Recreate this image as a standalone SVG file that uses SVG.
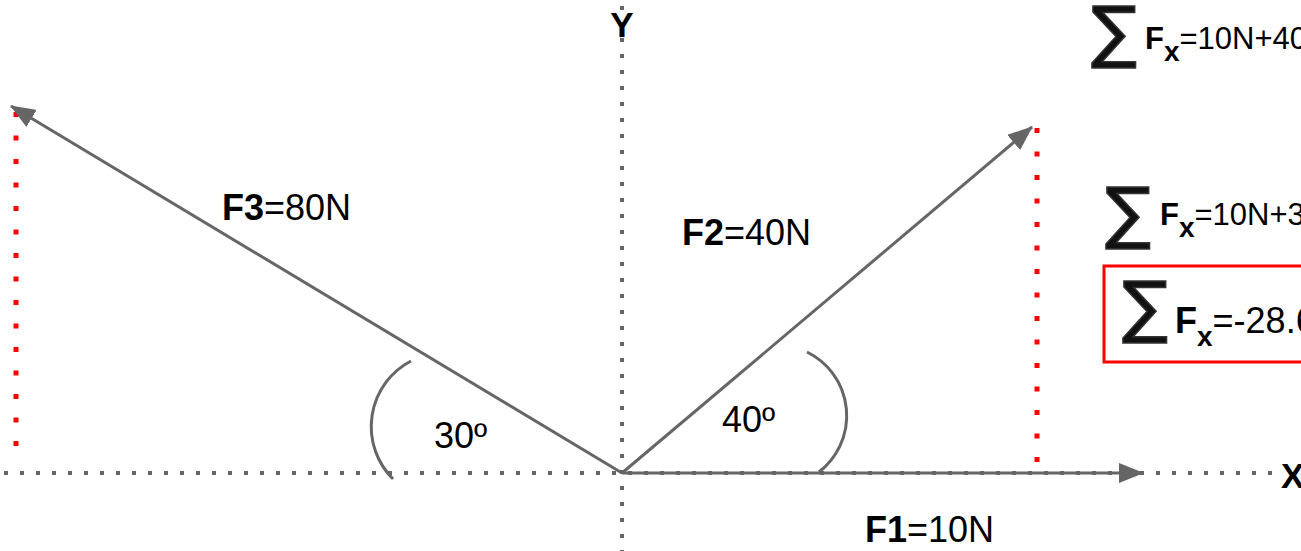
<svg xmlns="http://www.w3.org/2000/svg" width="1301" height="551" viewBox="0 0 1301 551">
<style>
text{font-family:"Liberation Sans",Arial,sans-serif;fill:#000}
.b{font-weight:bold}
.axis{stroke:#666;stroke-width:4;stroke-dasharray:4 12;fill:none}
.red{stroke:#f00;stroke-width:5;stroke-dasharray:5 18.5;fill:none}
.vec{stroke:#666;stroke-width:3;fill:none}
.sig{font-family:"DejaVu Sans",sans-serif;font-size:68px;fill:#111;stroke:#333;stroke-width:1.5}
</style>
<defs>
<marker id="ah" viewBox="0 0 25 20" refX="24" refY="10" markerWidth="25" markerHeight="20" markerUnits="userSpaceOnUse" orient="auto">
<path d="M0,0 L25,10 L0,20 Z" fill="#666"/>
</marker>
</defs>
<g id="axes">
<line class="axis" x1="622" y1="6" x2="622" y2="551"/>
<line class="axis" x1="4" y1="473" x2="1272" y2="473"/>
<text class="b" x="622" y="37" font-size="35" text-anchor="middle">Y</text>
<text class="b" x="1281" y="488" font-size="35">X</text>
</g>
<g id="guides">
<line class="red" x1="16" y1="112" x2="16" y2="456"/>
<line class="red" x1="1037" y1="128" x2="1037" y2="467"/>
</g>
<g id="connectors">
<line class="vec" x1="622" y1="473" x2="1143" y2="473" marker-end="url(#ah)"/>
<line class="vec" x1="622" y1="473" x2="1032" y2="127" marker-end="url(#ah)"/>
<line class="vec" x1="622" y1="473" x2="11" y2="106" marker-end="url(#ah)"/>
<path class="vec" d="M411,361 A74,74 0 0 0 393,479"/>
<path class="vec" d="M807,352 A71,71 0 0 1 819,472"/>
</g>
<g id="labels">
<text x="222" y="220" font-size="36"><tspan class="b">F3</tspan>=80N</text>
<text x="682" y="245" font-size="36"><tspan class="b">F2</tspan>=40N</text>
<text x="865" y="542" font-size="36"><tspan class="b">F1</tspan>=10N</text>
<text x="434" y="448" font-size="36">30º</text>
<text x="722" y="432" font-size="36">40º</text>
</g>
<g id="eq1">
<text class="sig" x="1091" y="55">∑</text>
<text x="1145" y="49" font-size="31"><tspan class="b">F</tspan><tspan class="b" dy="12" font-size="28">x</tspan><tspan dy="-12">=10N+40</tspan></text>
</g>
<g id="eq2">
<text class="sig" x="1105" y="236">∑</text>
<text x="1160" y="225" font-size="31"><tspan class="b">F</tspan><tspan class="b" dy="12" font-size="28">x</tspan><tspan dy="-12">=10N+3</tspan></text>
</g>
<g id="result">
<rect x="1104" y="266" width="220" height="96" fill="none" stroke="#f00" stroke-width="3"/>
<text class="sig" x="1122" y="330">∑</text>
<text x="1175" y="333" font-size="36"><tspan class="b">F</tspan><tspan class="b" dy="13" font-size="28">x</tspan><tspan dy="-13">=-28.6</tspan></text>
</g>
</svg>
